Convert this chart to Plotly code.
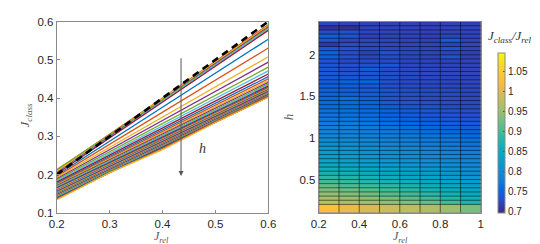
import plotly.graph_objects as go

# ---------------- data ----------------
J_rel_pts = [0.2, 0.3, 0.4, 0.5, 0.6]

# J_class curves, one per h (ordered from smallest h to largest h)
J_class_lines = [
    [0.206, 0.302, 0.398, 0.494, 0.590],
    [0.211, 0.305, 0.400, 0.496, 0.592],
    [0.208, 0.304, 0.399, 0.494, 0.589],
    [0.204, 0.300, 0.395, 0.490, 0.586],
    [0.213, 0.303, 0.395, 0.488, 0.583],
    [0.203, 0.298, 0.392, 0.486, 0.580],
    [0.202, 0.296, 0.390, 0.483, 0.577],
    [0.198, 0.287, 0.376, 0.465, 0.554],
    [0.195, 0.279, 0.363, 0.447, 0.531],
    [0.192, 0.271, 0.350, 0.429, 0.508],
    [0.189, 0.265, 0.341, 0.418, 0.494],
    [0.186, 0.260, 0.334, 0.407, 0.481],
    [0.183, 0.255, 0.327, 0.399, 0.471],
    [0.180, 0.251, 0.321, 0.392, 0.463],
    [0.177, 0.247, 0.316, 0.386, 0.456],
    [0.175, 0.244, 0.312, 0.381, 0.450],
    [0.173, 0.241, 0.309, 0.377, 0.445],
    [0.171, 0.238, 0.306, 0.373, 0.441],
    [0.169, 0.236, 0.303, 0.370, 0.437],
    [0.167, 0.234, 0.300, 0.367, 0.434],
    [0.165, 0.232, 0.298, 0.364, 0.431],
    [0.164, 0.230, 0.296, 0.362, 0.428],
    [0.162, 0.228, 0.294, 0.361, 0.426],
    [0.161, 0.226, 0.292, 0.359, 0.424],
    [0.159, 0.225, 0.290, 0.356, 0.422],
    [0.158, 0.223, 0.289, 0.355, 0.420],
    [0.157, 0.222, 0.287, 0.353, 0.418],
    [0.155, 0.221, 0.286, 0.352, 0.417],
    [0.154, 0.219, 0.284, 0.350, 0.415],
    [0.153, 0.218, 0.283, 0.349, 0.414],
    [0.152, 0.217, 0.282, 0.347, 0.413],
    [0.150, 0.216, 0.281, 0.346, 0.412],
    [0.149, 0.215, 0.280, 0.345, 0.411],
    [0.148, 0.214, 0.279, 0.344, 0.410],
    [0.147, 0.213, 0.278, 0.343, 0.409],
    [0.146, 0.212, 0.277, 0.342, 0.408],
    [0.145, 0.211, 0.276, 0.341, 0.407],
    [0.144, 0.210, 0.275, 0.341, 0.406],
    [0.143, 0.209, 0.274, 0.340, 0.406],
    [0.142, 0.208, 0.273, 0.339, 0.405],
    [0.141, 0.207, 0.272, 0.338, 0.404],
    [0.139, 0.206, 0.271, 0.338, 0.404],
    [0.138, 0.206, 0.270, 0.337, 0.403],
    [0.136, 0.205, 0.268, 0.337, 0.403],
    [0.134, 0.205, 0.265, 0.336, 0.402],
]

diag_x = [0.2, 0.6]
diag_y = [0.2, 0.6]

# heatmap: J_class / J_rel
J_rel_edges = [0.2, 0.3, 0.4, 0.5, 0.6, 0.7, 0.8, 0.9, 1.0]
h_edges = [0.1, 0.2, 0.25, 0.3, 0.35, 0.4, 0.45, 0.5, 0.55, 0.6, 0.65, 0.7, 0.75,
           0.8, 0.85, 0.9, 0.95, 1.0, 1.05, 1.1, 1.15, 1.2, 1.25, 1.3, 1.35, 1.4,
           1.45, 1.5, 1.55, 1.6, 1.65, 1.7, 1.75, 1.8, 1.85, 1.9, 1.95, 2.0, 2.05,
           2.1, 2.15, 2.2, 2.25, 2.3, 2.35, 2.4]
ratio = [
    [1.030, 1.010, 0.995, 0.985, 0.975, 0.965, 0.950, 0.930],
    [0.975, 0.965, 0.955, 0.945, 0.935, 0.920, 0.900, 0.875],
    [0.960, 0.950, 0.940, 0.930, 0.915, 0.900, 0.880, 0.860],
    [0.945, 0.935, 0.925, 0.912, 0.900, 0.885, 0.868, 0.850],
    [0.930, 0.920, 0.910, 0.898, 0.885, 0.870, 0.855, 0.840],
    [0.915, 0.905, 0.895, 0.885, 0.872, 0.858, 0.845, 0.830],
    [0.900, 0.892, 0.882, 0.870, 0.860, 0.848, 0.835, 0.822],
    [0.885, 0.878, 0.868, 0.858, 0.848, 0.838, 0.826, 0.814],
    [0.872, 0.865, 0.856, 0.846, 0.837, 0.828, 0.818, 0.806],
    [0.860, 0.853, 0.845, 0.836, 0.827, 0.819, 0.810, 0.800],
    [0.850, 0.843, 0.835, 0.827, 0.819, 0.811, 0.803, 0.794],
    [0.840, 0.834, 0.826, 0.818, 0.811, 0.804, 0.796, 0.788],
    [0.830, 0.825, 0.818, 0.810, 0.804, 0.797, 0.790, 0.782],
    [0.822, 0.817, 0.810, 0.803, 0.797, 0.791, 0.784, 0.777],
    [0.814, 0.810, 0.803, 0.797, 0.791, 0.785, 0.779, 0.772],
    [0.806, 0.802, 0.796, 0.790, 0.785, 0.779, 0.773, 0.767],
    [0.800, 0.796, 0.790, 0.785, 0.780, 0.774, 0.769, 0.763],
    [0.793, 0.790, 0.784, 0.779, 0.774, 0.769, 0.764, 0.758],
    [0.788, 0.784, 0.779, 0.772, 0.766, 0.760, 0.754, 0.748],
    [0.782, 0.779, 0.774, 0.766, 0.760, 0.754, 0.748, 0.743],
    [0.777, 0.775, 0.769, 0.761, 0.755, 0.749, 0.743, 0.739],
    [0.772, 0.770, 0.765, 0.756, 0.750, 0.744, 0.739, 0.735],
    [0.768, 0.766, 0.761, 0.752, 0.745, 0.740, 0.735, 0.732],
    [0.764, 0.762, 0.757, 0.747, 0.741, 0.736, 0.732, 0.729],
    [0.760, 0.759, 0.754, 0.743, 0.737, 0.733, 0.729, 0.726],
    [0.757, 0.756, 0.750, 0.739, 0.734, 0.730, 0.727, 0.726],
    [0.754, 0.762, 0.747, 0.736, 0.731, 0.729, 0.728, 0.725],
    [0.751, 0.749, 0.744, 0.734, 0.730, 0.728, 0.727, 0.724],
    [0.748, 0.746, 0.741, 0.733, 0.729, 0.727, 0.726, 0.724],
    [0.745, 0.743, 0.739, 0.732, 0.728, 0.726, 0.725, 0.723],
    [0.742, 0.748, 0.752, 0.731, 0.727, 0.726, 0.724, 0.723],
    [0.739, 0.738, 0.735, 0.730, 0.727, 0.725, 0.724, 0.722],
    [0.737, 0.733, 0.732, 0.729, 0.726, 0.725, 0.723, 0.722],
    [0.738, 0.730, 0.745, 0.729, 0.726, 0.724, 0.723, 0.721],
    [0.736, 0.733, 0.731, 0.740, 0.725, 0.723, 0.722, 0.720],
    [0.734, 0.726, 0.729, 0.728, 0.724, 0.722, 0.722, 0.720],
    [0.745, 0.732, 0.722, 0.728, 0.724, 0.721, 0.731, 0.719],
    [0.750, 0.730, 0.719, 0.734, 0.723, 0.721, 0.720, 0.718],
    [0.739, 0.734, 0.726, 0.725, 0.724, 0.720, 0.734, 0.720],
    [0.708, 0.728, 0.725, 0.724, 0.722, 0.720, 0.719, 0.723],
    [0.731, 0.721, 0.723, 0.723, 0.721, 0.719, 0.741, 0.720],
    [0.743, 0.735, 0.719, 0.722, 0.721, 0.719, 0.722, 0.721],
    [0.725, 0.731, 0.724, 0.721, 0.720, 0.719, 0.720, 0.722],
    [0.704, 0.701, 0.721, 0.721, 0.720, 0.718, 0.721, 0.720],
    [0.727, 0.723, 0.721, 0.721, 0.720, 0.719, 0.720, 0.719],
]
z_min, z_max = 0.696, 1.098

left_xticks = [0.2, 0.3, 0.4, 0.5, 0.6]
left_xtext = ["0.2", "0.3", "0.4", "0.5", "0.6"]
left_yticks = [0.1, 0.2, 0.3, 0.4, 0.5, 0.6]
left_ytext = ["0.1", "0.2", "0.3", "0.4", "0.5", "0.6"]
hm_xticks = [0.2, 0.4, 0.6, 0.8, 1.0]
hm_xtext = ["0.2", "0.4", "0.6", "0.8", "1"]
hm_yticks = [0.5, 1.0, 1.5, 2.0]
hm_ytext = ["0.5", "1", "1.5", "2"]
cb_ticks = [0.7, 0.75, 0.8, 0.85, 0.9, 0.95, 1.0, 1.05]
cb_text = ["0.7", "0.75", "0.8", "0.85", "0.9", "0.95", "1", "1.05"]

# ---------------- styling ----------------
matlab_colors = ['#0072BD', '#D95319', '#EDB120', '#7E2F8E', '#77AC30', '#4DBEEE', '#A2142F']
parula_pts = [
    (0.2081, 0.1663, 0.5292), (0.2081, 0.2386, 0.6771), (0.1253, 0.3242, 0.8303),
    (0.0060, 0.4086, 0.8828), (0.0629, 0.4737, 0.8554), (0.0793, 0.5200, 0.8312),
    (0.0488, 0.5772, 0.8228), (0.0239, 0.6287, 0.8038), (0.0267, 0.6642, 0.7607),
    (0.0843, 0.6928, 0.7062), (0.1801, 0.7177, 0.6424), (0.3022, 0.7376, 0.5712),
    (0.4420, 0.7481, 0.5033), (0.5709, 0.7485, 0.4494), (0.6834, 0.7435, 0.4044),
    (0.7858, 0.7356, 0.3633), (0.8824, 0.7274, 0.3217), (0.9739, 0.7314, 0.2666),
    (0.9990, 0.7653, 0.2164), (0.9789, 0.8271, 0.1633), (0.9589, 0.8949, 0.1132),
    (0.9763, 0.9831, 0.0538),
]
n = len(parula_pts)
parula = [[i / (n - 1), 'rgb(%d,%d,%d)' % tuple(round(255 * c) for c in p)]
          for i, p in enumerate(parula_pts)]

W, H = 540, 244
def px(x):
    return x / W
def py(y):
    return 1 - y / H

tick_font = dict(family="Liberation Sans, Arial, sans-serif", size=11.5, color="#262626")
axis_col = "#8a8a8a"
serif = "Liberation Serif, Times New Roman, serif"

fig = go.Figure()

for i, ys in enumerate(J_class_lines):
    fig.add_trace(go.Scatter(x=J_rel_pts, y=ys, mode="lines",
                             line=dict(color=matlab_colors[i % 7], width=1.3),
                             showlegend=False, hoverinfo="skip", xaxis="x", yaxis="y"))

fig.add_trace(go.Scatter(x=diag_x, y=diag_y, mode="lines",
                         line=dict(color="black", width=2.6, dash="7px,5px"),
                         showlegend=False, xaxis="x", yaxis="y"))

fig.add_trace(go.Heatmap(x=J_rel_edges, y=h_edges, z=ratio, zmin=z_min, zmax=z_max,
                         colorscale=parula, xaxis="x2", yaxis="y2",
                         colorbar=dict(x=px(497), xanchor="left", y=py(209), yanchor="bottom",
                                       len=(209 - 41) / H, lenmode="fraction",
                                       thickness=7, thicknessmode="pixels",
                                       outlinewidth=1, outlinecolor=axis_col,
                                       tickvals=cb_ticks, ticktext=cb_text,
                                       ticks="inside", ticklen=2, tickcolor="#555",
                                       tickfont=dict(family=tick_font["family"], size=10, color="#262626"),
                                       xpad=0, ypad=0)))

# cell edge grid
gx, gy = [], []
for yv in h_edges:
    gx += [J_rel_edges[0], J_rel_edges[-1], None]
    gy += [yv, yv, None]
for xv in J_rel_edges:
    gx += [xv, xv, None]
    gy += [h_edges[0], h_edges[-1], None]
fig.add_trace(go.Scatter(x=gx, y=gy, mode="lines", line=dict(color="rgba(0,0,0,0.5)", width=1),
                         showlegend=False, hoverinfo="skip", xaxis="x2", yaxis="y2"))

ydom = [py(209), py(8)]
common = dict(showgrid=False, zeroline=False, showline=True, linecolor=axis_col, linewidth=1,
              mirror=True, tickfont=tick_font)
fig.update_layout(
    width=W, height=H, autosize=False,
    margin=dict(l=0, r=0, t=0, b=0),
    paper_bgcolor="white", plot_bgcolor="white",
    xaxis=dict(domain=[px(42), px(260)], range=[0.2, 0.6], tickvals=left_xticks, ticktext=left_xtext,
               ticks="inside", ticklen=3, tickcolor=axis_col, anchor="y", **common),
    yaxis=dict(domain=ydom, range=[0.1, 0.6], tickvals=left_yticks, ticktext=left_ytext,
               ticks="inside", ticklen=3, tickcolor=axis_col, anchor="x", **common),
    xaxis2=dict(domain=[px(312), px(479)], range=[0.2, 1.0], tickvals=hm_xticks, ticktext=hm_xtext,
                ticks="", anchor="y2", **common),
    yaxis2=dict(domain=ydom, range=[0.1, 2.4], tickvals=hm_yticks, ticktext=hm_ytext,
                ticks="", anchor="x2", **common),
)

ann = []
lab = dict(family=serif, size=13, color="#555")
lab_x = dict(family=serif, size=12, color="#555")
c = dict(xanchor="center", yanchor="middle", showarrow=False)
ann.append(dict(x=px(10), y=py(107), xref="paper", yref="paper", textangle=-90,
                text="<i>J</i><sub><i>class</i></sub>", font=lab, **c))
ann.append(dict(x=px(150), y=py(234.5), xref="paper", yref="paper",
                text="<i>J</i><sub><i>rel</i></sub>", font=lab_x, **c))
ann.append(dict(x=px(281), y=py(108), xref="paper", yref="paper", textangle=-90,
                text="<i>h</i>", font=lab, **c))
ann.append(dict(x=px(396), y=py(234.5), xref="paper", yref="paper",
                text="<i>J</i><sub><i>rel</i></sub>", font=lab_x, **c))
ann.append(dict(x=px(509), y=py(24), xref="paper", yref="paper",
                text="<i>J</i><sub><i>class</i></sub><i>/J</i><sub><i>rel</i></sub>",
                font=dict(family=serif, size=13, color="#333"), **c))
ann.append(dict(x=0.475, y=0.268, xref="x", yref="y", text="<i>h</i>",
                font=dict(family=serif, size=14, color="#333"), **c))
ann.append(dict(x=0.435, y=0.196, ax=0.435, ay=0.508, xref="x", yref="y", axref="x", ayref="y",
                text="", showarrow=True, arrowhead=2, arrowsize=1, arrowwidth=1, arrowcolor="#555"))
fig.update_layout(annotations=ann)

fig.write_html("out.html")
